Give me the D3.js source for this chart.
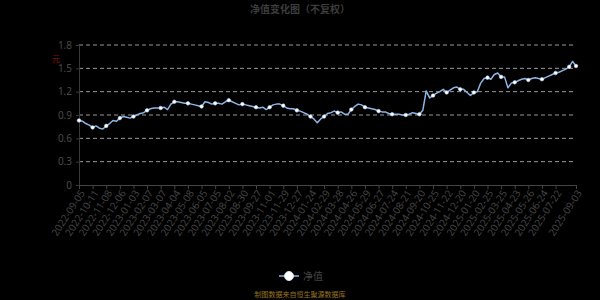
<!DOCTYPE html>
<html>
<head>
<meta charset="utf-8">
<script src="https://cdn.jsdelivr.net/npm/d3@7"></script>
<style>
  body { margin: 0; background: #000; }
  svg { display: block; font-family: "Noto Sans CJK SC", "Noto Sans", sans-serif; }
</style>
</head>
<body>
<div id="main"></div>
<script>
// tick labels (one every 20 trading days, plus the last day)
const tickLabels = ["2022-09-05","2022-10-11","2022-11-08","2022-12-06","2023-01-03","2023-02-07",
  "2023-03-07","2023-04-04","2023-05-08","2023-06-05","2023-07-05","2023-08-02","2023-08-30",
  "2023-09-27","2023-11-01","2023-11-29","2023-12-27","2024-01-24","2024-02-29","2024-03-28",
  "2024-04-26","2024-05-29","2024-06-27","2024-07-24","2024-08-21","2024-09-20","2024-10-25",
  "2024-11-22","2024-12-20","2025-01-20","2025-02-25","2025-03-25","2025-04-23","2025-05-26",
  "2025-06-24","2025-07-22","2025-09-03"];
const tickDays = [0,20,40,60,80,100,120,140,160,180,200,220,240,260,280,300,320,340,360,380,
  400,420,440,460,480,500,520,540,560,580,600,620,640,660,680,700,730];
const totalDays = 730;
const yTicks = [0, 0.3, 0.6, 0.9, 1.2, 1.5, 1.8];

// net value, one reading every 5 trading days
const step = 5;
const navValues = [
  0.83,0.82,0.79,0.77,0.74,0.76,0.73,0.72,0.76,0.79,0.83,0.82,0.86,0.88,0.87,0.86,0.88,0.90,0.92,0.93,
  0.96,0.98,0.99,0.99,0.99,1.00,0.97,1.04,1.07,1.07,1.06,1.05,1.05,1.04,1.03,1.02,1.01,
  1.07,1.06,1.04,1.05,1.05,1.04,1.07,1.09,1.07,1.05,1.03,1.04,1.03,1.02,1.01,1.00,0.99,1.00,0.97,1.00,
  1.03,1.04,1.04,1.02,0.99,0.98,0.98,0.96,0.95,0.93,0.91,0.88,0.85,0.80,0.85,0.88,
  0.92,0.93,0.95,0.93,0.94,0.91,0.91,0.97,1.01,1.04,1.03,1.00,0.99,0.98,0.97,0.95,0.94,0.94,0.92,0.91,
  0.91,0.91,0.90,0.90,0.91,0.93,0.92,0.91,0.96,1.21,1.12,1.15,1.18,1.20,1.23,1.19,
  1.22,1.25,1.26,1.23,1.23,1.19,1.15,1.19,1.20,1.31,1.37,1.38,1.36,1.42,1.44,1.39,1.39,1.25,1.31,1.32,
  1.34,1.36,1.37,1.35,1.37,1.38,1.37,1.36,1.38,1.40,1.42,1.44,1.45,1.47,1.49,1.52,
  1.59,1.53
];

const width = 600, height = 300;
const padLeft = 79, padRight = 576, padTop = 45, padBottom = 185;

const svg = d3.select('#main').append('svg')
  .attr('width', width).attr('height', height);

svg.append('rect').attr('width', width).attr('height', height).attr('fill', '#000');

const x = d3.scaleLinear().domain([0, totalDays]).range([padLeft, padRight]);
const y = d3.scaleLinear().domain([0, 1.8]).range([padBottom, padTop]);

// title
svg.append('text')
  .attr('x', 300).attr('y', 13)
  .attr('text-anchor', 'middle')
  .attr('font-size', 10).attr('font-weight', 'bold')
  .attr('fill', '#3c3c3c')
  .text('净值变化图（不复权）');

// unit
svg.append('text')
  .attr('x', 56).attr('y', 62)
  .attr('text-anchor', 'middle')
  .attr('font-size', 8)
  .attr('fill', '#8b1010')
  .text('元');

// grid lines
svg.append('g').selectAll('line').data(yTicks.filter(d => d > 0))
  .enter().append('line')
  .attr('x1', padLeft).attr('x2', padRight)
  .attr('y1', d => y(d)).attr('y2', d => y(d))
  .attr('stroke', '#9a9a9a')
  .attr('stroke-width', 1)
  .attr('stroke-dasharray', '4,3');

// y axis
const yAxis = d3.axisLeft(y).tickValues(yTicks).tickSize(3).tickPadding(4)
  .tickFormat(d => d === 0 ? '0' : d3.format('.1f')(d));
const gy = svg.append('g').attr('transform', 'translate(' + padLeft + ',0)').call(yAxis);
gy.select('.domain').attr('stroke', '#3a3a3a');
gy.selectAll('.tick line').attr('stroke', '#3a3a3a');
gy.selectAll('.tick text').attr('fill', '#4a4a4a').attr('font-size', 10)
  .attr('font-family', '"Noto Sans", sans-serif');

// x axis
const xAxis = d3.axisBottom(x).tickValues(tickDays).tickSize(4).tickSizeOuter(0)
  .tickFormat((d, i) => tickLabels[i]);
const gx = svg.append('g').attr('transform', 'translate(0,' + padBottom + ')').call(xAxis);
gx.select('.domain').attr('stroke', '#444');
gx.selectAll('.tick line').attr('stroke', '#444');
gx.selectAll('.tick text')
  .attr('fill', '#444').attr('font-size', 10)
  .attr('font-family', '"Noto Sans", sans-serif')
  .attr('text-anchor', 'end')
  .attr('transform', 'translate(3,6) rotate(-57)')
  .attr('dy', '0.35em').attr('y', 0);

// line
const pts = navValues.map((v, i) => [i * step, v]);
const line = d3.line().x(d => x(d[0])).y(d => y(d[1]));

svg.append('path').datum(pts)
  .attr('d', line)
  .attr('fill', 'none')
  .attr('stroke', '#8db3e2')
  .attr('stroke-width', 1.5)
  .attr('stroke-linejoin', 'round');

// markers every 20 trading days
svg.append('g').selectAll('circle').data(pts.filter((d, i) => i % 4 === 0 || i === pts.length - 1))
  .enter().append('circle')
  .attr('cx', d => x(d[0])).attr('cy', d => y(d[1]))
  .attr('r', 1.8)
  .attr('fill', '#fff')
  .attr('stroke', '#b9d2f0').attr('stroke-width', 0.6);

// legend
const lg = svg.append('g');
lg.append('line').attr('x1', 279).attr('x2', 299).attr('y1', 276).attr('y2', 276)
  .attr('stroke', '#8db3e2').attr('stroke-width', 1.5);
lg.append('circle').attr('cx', 289).attr('cy', 276).attr('r', 4.5)
  .attr('fill', '#fff').attr('stroke', '#cfe0f5').attr('stroke-width', 1);
lg.append('text').attr('x', 303).attr('y', 279.5)
  .attr('font-size', 10).attr('fill', '#444').text('净值');

// source
svg.append('text')
  .attr('x', 300).attr('y', 297)
  .attr('text-anchor', 'middle')
  .attr('font-size', 7)
  .attr('fill', '#9a7420')
  .text('制图数据来自恒生聚源数据库');
</script>
</body>
</html>
